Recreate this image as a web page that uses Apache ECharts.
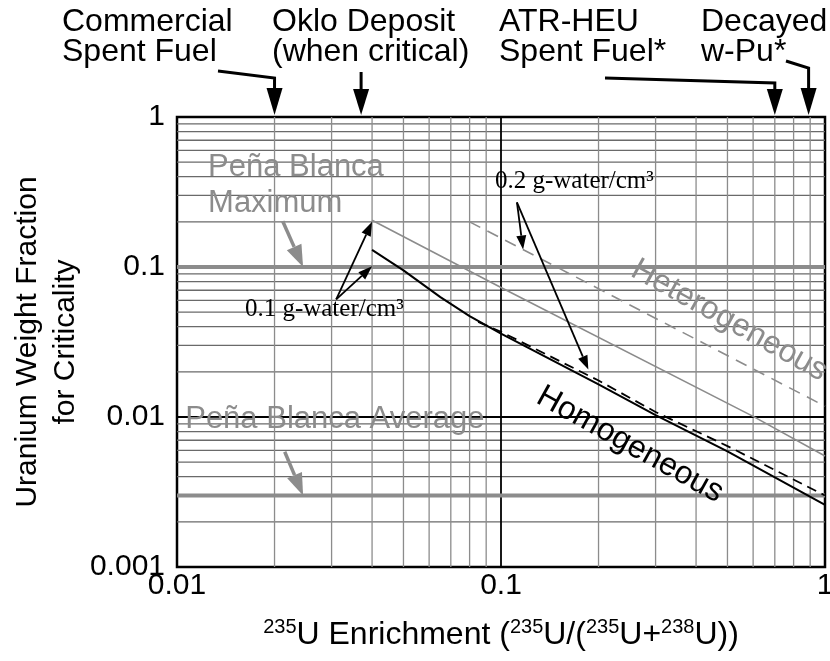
<!DOCTYPE html>
<html>
<head>
<meta charset="utf-8">
<title>Uranium Weight Fraction for Criticality</title>
<script src="https://cdn.jsdelivr.net/npm/echarts@6/dist/echarts.min.js"></script>
<style>
    html, body { margin: 0; padding: 0; background: #fff; }
    #main { width: 830px; height: 661px; }
</style>
</head>
<body>
<div id="main"></div>
<script>
    // axis ticks (log scale)
    var xTicks = [0.01, 0.1, 1];
    var xTickLabels = ['0.01', '0.1', '1'];
    var yTicks = [0.001, 0.01, 0.1, 1];
    var yTickLabels = ['0.001', '0.01', '0.1', '1'];
    var xMinor = [0.02, 0.03, 0.04, 0.05, 0.06, 0.07, 0.08, 0.09, 0.2, 0.3, 0.4, 0.5, 0.6, 0.7, 0.8, 0.9];
    var yMinor = [0.002, 0.003, 0.004, 0.005, 0.006, 0.007, 0.008, 0.009,
                  0.02, 0.03, 0.04, 0.05, 0.06, 0.07, 0.08, 0.09,
                  0.2, 0.3, 0.4, 0.5, 0.6, 0.7, 0.8, 0.9];

    // curves: [enrichment, uranium weight fraction]
    var homog01 = [[0.04, 0.13], [0.05, 0.095], [0.065, 0.063], [0.08, 0.047], [0.1, 0.036],
                   [0.2, 0.0165], [0.3, 0.0103], [0.5, 0.0059], [1, 0.0026]];
    var homog02 = [[0.085, 0.043], [0.1, 0.037], [0.2, 0.0175], [0.3, 0.0108], [0.5, 0.0064], [1, 0.003]];
    var hetero01 = [[0.04, 0.205], [0.1, 0.073], [0.6, 0.0101], [1, 0.0055]];
    var hetero02 = [[0.08, 0.2], [1, 0.0118]];

    // Pena Blanca uranium levels
    var penaMax = 0.1;
    var penaAvg = 0.003;

    // materials marked along the top
    var topLabels = ['Commercial\nSpent Fuel', 'Oklo Deposit\n(when critical)', 'ATR-HEU\nSpent Fuel*', 'Decayed\nw-Pu*'];
    var topArrowX = [0.02, 0.037, 0.7, 0.89];

    var FONT = '"Liberation Sans", Arial, Helvetica, sans-serif';
    var SERIF = '"Liberation Serif", "Times New Roman", serif';
    var GRAY = '#8c8c8c';

    function tickText(ticks, labels, v) {
        var best = 0;
        for (var i = 0; i < ticks.length; i++) {
            if (Math.abs(Math.log10(ticks[i]) - Math.log10(v)) < Math.abs(Math.log10(ticks[best]) - Math.log10(v))) best = i;
        }
        return labels[best];
    }

    // straight rule across the whole plot, drawn as a 2-point line series
    var x0 = xTicks[0], x1 = xTicks[xTicks.length - 1];
    var y0 = yTicks[0], y1 = yTicks[yTicks.length - 1];
    function rule(pts, color, width, z) {
        return {
            type: 'line', data: pts, z: z, silent: true, showSymbol: false, symbol: 'none',
            lineStyle: { color: color, width: width, type: 'solid' }, emphasis: { disabled: true }
        };
    }
    function hRule(v, color, width, z) { return rule([[x0, v], [x1, v]], color, width, z); }
    function vRule(v, color, width, z) { return rule([[v, y0], [v, y1]], color, width, z); }

    var series = [];
    yMinor.forEach(function (v) { series.push(hRule(v, '#6a6a6a', 1.3, 1)); });
    xMinor.forEach(function (v) { series.push(vRule(v, GRAY, 1.3, 1)); });
    series.push(vRule(xTicks[1], '#000', 1.8, 2));
    series.push(hRule(yTicks[1], '#000', 1.8, 2));
    series.push(hRule(penaMax, GRAY, 4, 3));
    series.push(hRule(penaAvg, GRAY, 4, 3));

    series.push({
        name: 'Heterogeneous 0.1', type: 'line', data: hetero01, z: 4, showSymbol: false,
        lineStyle: { color: GRAY, width: 1.6 }
    });
    series.push({
        name: 'Heterogeneous 0.2', type: 'line', data: hetero02, z: 4, showSymbol: false,
        lineStyle: { color: GRAY, width: 1.6, type: [12, 8] }
    });
    series.push({
        name: 'Homogeneous 0.1', type: 'line', data: homog01, z: 5, showSymbol: false,
        lineStyle: { color: '#000', width: 2 }
    });
    series.push({
        name: 'Homogeneous 0.2', type: 'line', data: homog02, z: 5, showSymbol: false,
        lineStyle: { color: '#000', width: 1.8, type: [10, 6] }
    });

    var option = {
        animation: false,
        backgroundColor: '#fff',
        grid: {
            left: 177, right: 5, top: 117, bottom: 94, containLabel: false, outerBoundsMode: 'none',
            show: true, borderColor: '#000', borderWidth: 2.5, backgroundColor: 'transparent'
        },
        xAxis: {
            type: 'log', logBase: 10, min: x0, max: x1,
            axisLine: { show: false }, axisTick: { show: false }, splitLine: { show: false },
            axisLabel: {
                margin: 4, color: '#000', fontFamily: FONT, fontSize: 30,
                formatter: function (v) { return tickText(xTicks, xTickLabels, v); }
            },
            name: '{sup|235}U Enrichment ({sup|235}U/({sup|235}U+{sup|238}U))',
            nameLocation: 'middle', nameGap: 50, nameMoveOverlap: false,
            nameTextStyle: {
                color: '#000', fontFamily: FONT, fontSize: 32, lineHeight: 36,
                rich: { sup: { fontFamily: FONT, fontSize: 20, lineHeight: 36, verticalAlign: 'top', color: '#000' } }
            }
        },
        yAxis: {
            type: 'log', logBase: 10, min: y0, max: y1,
            axisLine: { show: false }, axisTick: { show: false }, splitLine: { show: false },
            axisLabel: {
                margin: 12, color: '#000', fontFamily: FONT, fontSize: 30,
                formatter: function (v) { return tickText(yTicks, yTickLabels, v); }
            },
            name: 'Uranium Weight Fraction\nfor Criticality',
            nameLocation: 'middle', nameGap: 92, nameRotate: 90, nameMoveOverlap: false,
            nameTextStyle: { color: '#000', fontFamily: FONT, fontSize: 30, lineHeight: 38 }
        },
        series: series
    };

    var chart = echarts.init(document.getElementById('main'));
    chart.setOption(option);

    function px(x, y) { return chart.convertToPixel({ gridIndex: 0 }, [x, y]); }

    function arrow(points, color, width, headLen, headHalf) {
        var n = points.length;
        var tip = points[n - 1], from = points[n - 2];
        var dx = tip[0] - from[0], dy = tip[1] - from[1];
        var len = Math.sqrt(dx * dx + dy * dy);
        var ux = dx / len, uy = dy / len;
        var bx = tip[0] - ux * headLen, by = tip[1] - uy * headLen;
        var stem = points.slice(0, n - 1).concat([[bx, by]]);
        return [
            { type: 'polyline', z: 20, silent: true, shape: { points: stem }, style: { stroke: color, lineWidth: width, fill: null } },
            { type: 'polygon', z: 20, silent: true, shape: { points: [tip, [bx - uy * headHalf, by + ux * headHalf], [bx + uy * headHalf, by - ux * headHalf]] }, style: { fill: color } }
        ];
    }

    function label(text, p, opts) {
        return {
            type: 'text', z: 21, silent: true, x: p[0], y: p[1],
            rotation: opts.rotation || 0,
            style: {
                text: text, fill: opts.color || '#000', fontFamily: opts.family || FONT,
                fontSize: opts.size, lineHeight: opts.lineHeight || opts.size,
                align: opts.align || 'left', verticalAlign: opts.valign || 'top'
            }
        };
    }

    var g = [];

    // top materials: labels and pointers
    var topLeft = [62, 272, 499, 701];
    topLabels.forEach(function (t, i) {
        g.push(label(t, [topLeft[i], 7], { size: 32, lineHeight: 30 }));
    });
    var ax = topArrowX.map(function (v) { return px(v, y1)[0]; });
    var topY = px(x1, y1)[1] - 2;
    g = g.concat(arrow([[218, 71], [ax[0], 78], [ax[0], topY]], '#000', 3, 27, 8));
    g = g.concat(arrow([[ax[1], 72], [ax[1], topY]], '#000', 3, 26, 8));
    g = g.concat(arrow([[605, 78], [ax[2], 83], [ax[2], topY]], '#000', 3, 26, 8));
    g = g.concat(arrow([[786, 61], [ax[3], 68], [ax[3], topY]], '#000', 3, 27, 8));

    // Pena Blanca labels and arrows
    g.push(label('Peña Blanca\nMaximum', px(0.01247, 0.611), { size: 31, lineHeight: 36, color: GRAY }));
    g = g.concat(arrow([px(0.0212, 0.2016), px(0.0245, penaMax)], GRAY, 3.5, 22, 8));
    g.push(label('Peña Blanca Average', px(0.0106, 0.0096), { size: 31, valign: 'middle', color: GRAY }));
    g = g.concat(arrow([px(0.0215, 0.00587), px(0.0245, penaAvg)], GRAY, 3.5, 22, 8));

    // water density labels
    g.push(label('0.1 g-water/cm³', px(0.0162, 0.052), { size: 25, family: SERIF, valign: 'middle' }));
    g = g.concat(arrow([px(0.031, 0.0608), px(0.04, 0.2)], '#000', 1.8, 14, 5));
    g = g.concat(arrow([px(0.031, 0.0608), px(0.04, 0.101)], '#000', 1.8, 14, 5));
    g.push(label('0.2 g-water/cm³', px(0.0958, 0.374), { size: 25, family: SERIF, valign: 'middle' }));
    g = g.concat(arrow([px(0.112, 0.27), px(0.117, 0.131)], '#000', 1.8, 14, 5));
    g = g.concat(arrow([px(0.112, 0.27), px(0.186, 0.0207)], '#000', 1.8, 14, 5));

    // curve family labels
    var rot = -29 * Math.PI / 180;
    g.push(label('Homogeneous', px(0.25, 0.00654), { size: 32, align: 'center', valign: 'middle', rotation: rot }));
    g.push(label('Heterogeneous', px(0.506, 0.044), { size: 32, align: 'center', valign: 'middle', rotation: rot, color: GRAY }));

    chart.setOption({ graphic: g });
</script>
</body>
</html>
